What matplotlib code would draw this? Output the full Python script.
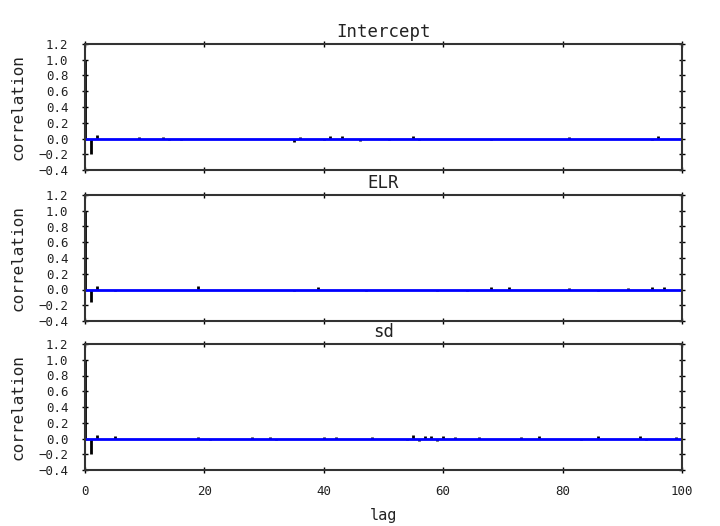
import matplotlib
matplotlib.use('Agg')
import matplotlib.pyplot as plt
import numpy as np

plt.rcParams['font.family'] = 'DejaVu Sans Mono'

# autocorrelation values (lag: value), lags not listed ~0
names = ['Intercept', 'ELR', 'sd']

intercept_lags = [0, 1, 2, 9, 13, 14, 16, 35, 36, 40, 41, 43, 46, 51, 55, 56, 68, 81, 95, 96]
intercept_vals = [1.0, -0.2, 0.042, 0.025, 0.025, -0.025, -0.025, -0.047, 0.025, -0.025, 0.03,
                  0.03, -0.03, -0.025, 0.03, -0.025, -0.025, 0.025, -0.025, 0.03]

elr_lags = [0, 1, 2, 5, 19, 35, 39, 47, 59, 64, 68, 71, 81, 86, 91, 95, 97]
elr_vals = [1.0, -0.16, 0.045, -0.025, 0.045, -0.025, 0.03, -0.025, -0.025, -0.025, 0.035,
            0.03, 0.025, -0.025, 0.025, 0.03, 0.03]

sd_lags = [0, 1, 2, 5, 19, 21, 28, 31, 32, 40, 42, 48, 54, 55, 56, 57, 58, 59, 60, 62,
           66, 73, 76, 83, 86, 93, 94, 99]
sd_vals = [1.0, -0.2, 0.05, 0.03, 0.025, -0.025, 0.025, 0.025, -0.025, 0.025, 0.025, 0.025,
           -0.025, 0.05, -0.03, 0.03, 0.03, -0.03, 0.035, 0.025, 0.025, 0.025, 0.035, -0.025,
           0.035, 0.03, -0.025, 0.025]

series = [(intercept_lags, intercept_vals), (elr_lags, elr_vals), (sd_lags, sd_vals)]

fig = plt.figure(figsize=(7.2, 5.26), dpi=100)

left, width = 85 / 720, (682 - 85) / 720
tops = [44, 195, 344]
h = 126

for i, (name, (lags, vals)) in enumerate(zip(names, series)):
    ax = fig.add_axes([left, 1 - (tops[i] + h) / 526, width, h / 526])
    ax.vlines(lags, 0, vals, color='k', lw=2)
    ax.axhline(0, color='#0000ff', lw=2)
    ax.set_xlim(0, 100)
    ax.set_ylim(-0.4, 1.2)
    ax.set_yticks(np.arange(-0.4, 1.21, 0.2))
    ax.set_xticks(np.arange(0, 101, 20))
    ax.tick_params(direction='inout', length=4, width=1, labelsize=9,
                   top=True, right=True, labelcolor='#222222')
    ax.tick_params(axis='y', pad=10)
    ax.tick_params(axis='x', pad=9)
    for s in ax.spines.values():
        s.set_linewidth(1.5)
        s.set_color('#333333')
    ax.set_ylabel('correlation', fontsize=11.5, labelpad=9, color='#222222')
    ax.set_title(name, fontsize=12.5, pad=5, color='#222222')
    if i < 2:
        ax.set_xticklabels([])
    else:
        ax.set_xlabel('lag', fontsize=11, labelpad=7, color='#222222')

plt.savefig('out.png', dpi=100)
